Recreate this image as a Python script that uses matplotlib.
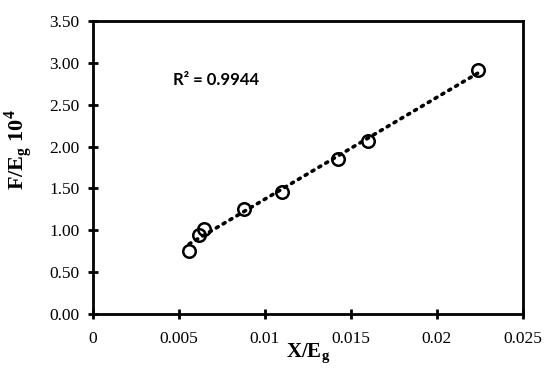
import numpy as np
from matplotlib import pyplot as plt, ticker

# data
x_vals = [0.00558, 0.00618, 0.00647, 0.00878, 0.01097, 0.01426, 0.0160, 0.02236]
y_vals = [0.756, 0.944, 1.02, 1.254, 1.46, 1.855, 2.067, 2.915]
r2_text = "R² = 0.9944"

x_ticks = [0, 0.005, 0.01, 0.015, 0.02, 0.025]
x_labels = ["0", "0.005", "0.01", "0.015", "0.02", "0.025"]
y_ticks = [0.0, 0.5, 1.0, 1.5, 2.0, 2.5, 3.0, 3.5]

serif = ['Liberation Serif', 'DejaVu Serif']

fig = plt.figure(figsize=(5.5, 3.73), dpi=100)
ax = fig.add_axes([93/550, 1 - 314/373, (523-93)/550, (314-21)/373])

# linear trend line over the data range
slope, intercept = np.polyfit(x_vals, y_vals, 1)
xs = np.array([min(x_vals), max(x_vals)])
ax.plot(xs, slope*xs + intercept, color='black', linestyle=(0, (0.6, 1.6)),
        linewidth=2.6, dash_capstyle='round', zorder=2)

ax.plot(x_vals, y_vals, linestyle='none', marker='o', markersize=9,
        markerfacecolor='none', markeredgecolor='black', markeredgewidth=1.8, zorder=3)

ax.set_xlim(0, 0.025)
ax.set_ylim(0, 3.5)
ax.set_xticks(x_ticks)
ax.set_xticklabels(x_labels)
ax.set_yticks(y_ticks)
ax.yaxis.set_major_formatter(ticker.FormatStrFormatter('%.2f'))

for s in ax.spines.values():
    s.set_linewidth(2.0)
ax.tick_params(direction='inout', length=7, width=2.0, labelsize=12.5)
ax.tick_params(axis='x', pad=9)
ax.tick_params(axis='y', pad=6)
for lab in ax.get_xticklabels() + ax.get_yticklabels():
    lab.set_family(serif)

ax.set_xlabel(r"X/E$_\mathregular{g}$", family=serif, fontsize=15, fontweight='bold')
ax.xaxis.set_label_coords(0.5, -0.095)
ax.set_ylabel(r"F/E$_\mathregular{g}$ 10$^\mathregular{4}$", family=serif, fontsize=16,
              fontweight='bold')
ax.yaxis.set_label_coords(-0.135, 0.56)

ax.text(0.00465, 2.8, r2_text, family=['Lato', 'DejaVu Sans'], fontsize=12,
        fontweight='bold', ha='left', va='center')

fig.savefig('out.png', dpi=100)
